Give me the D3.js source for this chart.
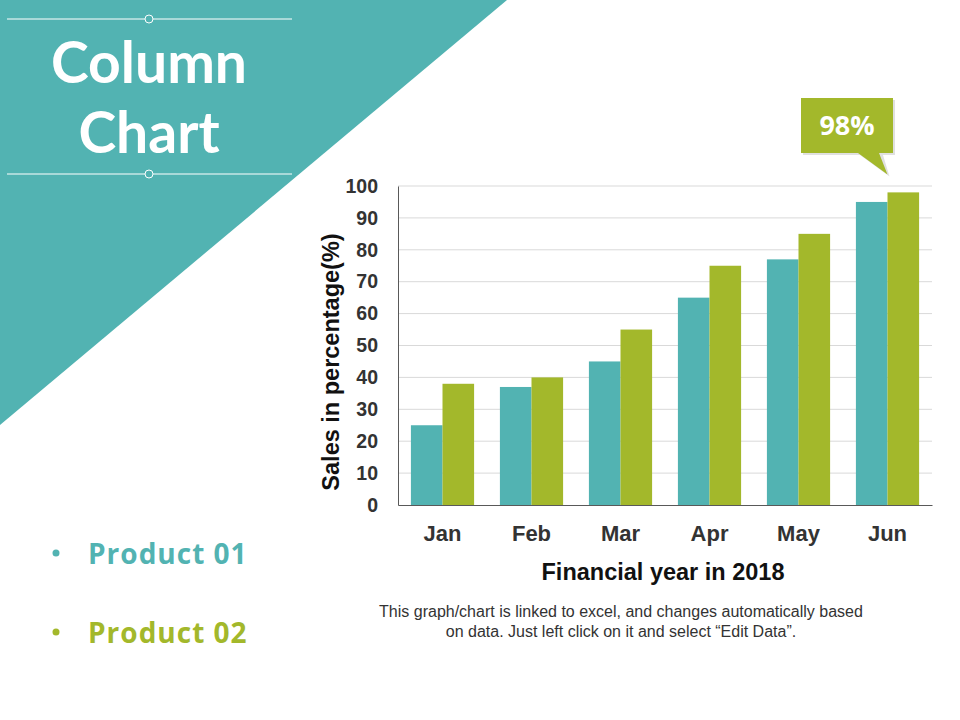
<!DOCTYPE html>
<html>
<head>
<meta charset="utf-8">
<script src="https://cdn.jsdelivr.net/npm/d3@7"></script>
<style>
  body { margin: 0; background: #fff; }
  svg { display: block; }
</style>
</head>
<body>
<div id="chart"></div>
<script>
// chart data
var months = ["Jan", "Feb", "Mar", "Apr", "May", "Jun"];
var product01 = [25, 37, 45, 65, 77, 95];
var product02 = [38, 40, 55, 75, 85, 98];
var seriesNames = ["Product 01", "Product 02"];
var yTicks = [0, 10, 20, 30, 40, 50, 60, 70, 80, 90, 100];

var teal = "#52b3b2";
var green = "#a3b82b";

var svg = d3.select("#chart")
	.append("svg")
	.attr("width", 960)
	.attr("height", 720);

// big teal triangle in the corner
svg.append("path")
	.attr("d", "M0,0 L507,0 L0,425 Z")
	.style("fill", teal);

// thin lines with little circles round the title
[19, 174].forEach(function(y) {
	svg.append("line")
		.attr("x1", 7).attr("x2", 292)
		.attr("y1", y).attr("y2", y)
		.style("stroke", "#fff")
		.style("stroke-width", 1);
	svg.append("circle")
		.attr("cx", 149).attr("cy", y).attr("r", 4)
		.style("fill", teal)
		.style("stroke", "#fff")
		.style("stroke-width", 1);
});

// two line title kept in one text element
var title = svg.append("text")
	.attr("text-anchor", "middle")
	.style("font-family", "Lato, 'Open Sans', sans-serif")
	.style("font-weight", "bold")
	.style("font-size", "57px")
	.style("fill", "#fff");
title.selectAll("tspan")
	.data(["Column", "Chart"])
	.enter().append("tspan")
	.attr("x", 149)
	.attr("y", function(d, i) { return 83 + i * 70; })
	.text(function(d) { return d; });

// plot area
var x0 = 398, x1 = 932, y0 = 505, y1 = 186;

var x = d3.scaleBand()
	.domain(months)
	.range([x0, x1])
	.paddingInner(0.29)
	.paddingOuter(0.145);

var xSub = d3.scaleBand()
	.domain(seriesNames)
	.range([0, x.bandwidth()]);

var y = d3.scaleLinear()
	.domain([0, 100])
	.range([y0, y1]);

// gridlines
svg.append("g")
	.selectAll("line")
	.data(yTicks.slice(1))
	.enter().append("line")
	.attr("x1", x0).attr("x2", x1)
	.attr("y1", function(d) { return y(d); })
	.attr("y2", function(d) { return y(d); })
	.style("stroke", "#d9d9d9")
	.style("stroke-width", 1);

var rows = months.map(function(m, i) {
	return [
		{ month: m, name: seriesNames[0], value: product01[i], color: teal },
		{ month: m, name: seriesNames[1], value: product02[i], color: green }
	];
});

var group = svg.selectAll(".group")
	.data(rows)
	.enter().append("g")
	.attr("class", "group")
	.attr("transform", function(d, i) { return "translate(" + x(months[i]) + ",0)"; });

group.selectAll("rect")
	.data(function(d) { return d; })
	.enter().append("rect")
	.attr("x", function(d) { return xSub(d.name); })
	.attr("y", function(d) { return y(d.value); })
	.attr("width", xSub.bandwidth())
	.attr("height", function(d) { return y0 - y(d.value); })
	.style("fill", function(d) { return d.color; });

// axes
var yAxis = svg.append("g")
	.attr("transform", "translate(" + x0 + ",0)")
	.call(d3.axisLeft(y).tickValues(yTicks).tickSize(0).tickPadding(20));
yAxis.select(".domain").style("stroke", "#595959");
yAxis.selectAll("text")
	.style("font-family", "'Liberation Sans', Arial, sans-serif")
	.style("font-weight", "bold")
	.style("font-size", "19.5px")
	.style("fill", "#333");

var xAxis = svg.append("g")
	.attr("transform", "translate(0," + y0 + ")")
	.call(d3.axisBottom(x).tickSize(0).tickPadding(20));
xAxis.select(".domain").style("stroke", "#595959");
xAxis.selectAll("text")
	.style("font-family", "'Liberation Sans', Arial, sans-serif")
	.style("font-weight", "bold")
	.style("font-size", "22px")
	.style("fill", "#333");

// axis titles
svg.append("text")
	.attr("transform", "translate(339,362) rotate(-90)")
	.attr("text-anchor", "middle")
	.style("font-family", "'Liberation Sans', Arial, sans-serif")
	.style("font-weight", "bold")
	.style("font-size", "23.5px")
	.style("fill", "#111")
	.text("Sales in percentage(%)");

svg.append("text")
	.attr("x", 663)
	.attr("y", 580)
	.attr("text-anchor", "middle")
	.style("font-family", "'Liberation Sans', Arial, sans-serif")
	.style("font-weight", "bold")
	.style("font-size", "23.5px")
	.style("fill", "#111")
	.text("Financial year in 2018");

// note under the chart
svg.selectAll(".note")
	.data(["This graph/chart is linked to excel, and changes automatically based",
		"on data. Just left click on it and select \u201cEdit Data\u201d."])
	.enter().append("text")
	.attr("class", "note")
	.attr("x", 621)
	.attr("y", function(d, i) { return 617 + i * 20; })
	.attr("text-anchor", "middle")
	.style("font-family", "'Liberation Sans', Arial, sans-serif")
	.style("font-size", "16px")
	.style("fill", "#333")
	.text(function(d) { return d; });

// callout for the top value
var last = product02[product02.length - 1];
var tipX = x(months[months.length - 1]) + xSub(seriesNames[1]);
var call = svg.append("g");
var bx = 801, bw = 92, by = 98, bh = 55;
call.append("path")
	.attr("d", "M" + (bx + 2) + "," + (by + 2) + " h" + bw + " v" + bh + " h-12 L" + (tipX + 2) + "," + (y(last) - 16) + " L" + (bx + 59) + "," + (by + bh + 2) + " H" + (bx + 2) + " Z")
	.style("fill", "#000")
	.style("opacity", 0.12);
call.append("path")
	.attr("d", "M" + bx + "," + by + " h" + bw + " v" + bh + " h-14 L" + tipX + "," + (y(last) - 18) + " L" + (bx + 57) + "," + (by + bh) + " H" + bx + " Z")
	.style("fill", green);
call.append("text")
	.attr("x", bx + bw / 2)
	.attr("y", by + 37)
	.attr("text-anchor", "middle")
	.style("font-family", "'Open Sans', sans-serif")
	.style("font-weight", "bold")
	.style("font-size", "27px")
	.style("fill", "#fff")
	.text(last + "%");

// legend with bullets
var legend = svg.selectAll(".legend")
	.data([{ name: seriesNames[0], color: teal }, { name: seriesNames[1], color: green }])
	.enter().append("g")
	.attr("class", "legend")
	.attr("transform", function(d, i) { return "translate(0," + (553 + i * 79) + ")"; });
legend.append("circle")
	.attr("cx", 56).attr("cy", 0).attr("r", 3.5)
	.style("fill", function(d) { return d.color; });
legend.append("text")
	.attr("x", 88)
	.attr("y", 11)
	.style("font-family", "'Open Sans', sans-serif")
	.style("font-weight", "bold")
	.style("font-size", "28px")
	.style("letter-spacing", "1px")
	.style("fill", function(d) { return d.color; })
	.text(function(d) { return d.name; });
</script>
</body>
</html>
